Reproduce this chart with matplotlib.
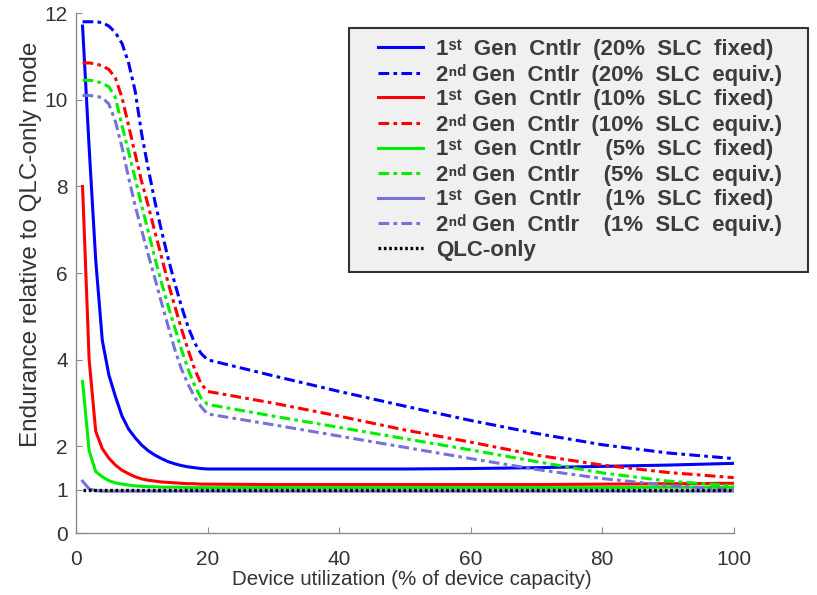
import matplotlib
matplotlib.use("Agg")
import matplotlib.pyplot as plt
from matplotlib import font_manager
from matplotlib.legend_handler import HandlerLine2D
from matplotlib.lines import Line2D

plt.rcParams["font.family"] = ["Liberation Sans", "DejaVu Sans"]

# utilization (% of device capacity)
util = [1, 2, 3, 4, 5, 6, 7, 8, 9, 10, 11, 12, 13, 14, 15, 16, 17, 18, 19, 20,
        30, 40, 50, 60, 70, 80, 90, 100]

gen1_20 = [11.7, 8.9, 6.3, 4.45, 3.65, 3.15, 2.7, 2.4, 2.2, 2.03, 1.9, 1.8, 1.72, 1.65,
           1.6, 1.56, 1.53, 1.51, 1.49, 1.48, 1.48, 1.48, 1.48, 1.49, 1.51, 1.54, 1.57, 1.61]
gen2_20 = [11.8, 11.8, 11.8, 11.78, 11.7, 11.55, 11.3, 10.85, 10.2, 9.2, 8.4, 7.65, 6.98, 6.35,
           5.78, 5.25, 4.78, 4.4, 4.15, 4.0, 3.63, 3.27, 2.93, 2.6, 2.3, 2.04, 1.85, 1.72]
gen1_10 = [8.0, 4.0, 2.35, 1.95, 1.73, 1.57, 1.45, 1.37, 1.3, 1.25, 1.22, 1.2, 1.18, 1.17,
           1.16, 1.15, 1.14, 1.14, 1.13, 1.13, 1.12, 1.12, 1.12, 1.12, 1.12, 1.13, 1.14, 1.15]
gen2_10 = [10.85, 10.85, 10.83, 10.78, 10.7, 10.5, 10.05, 9.4, 8.75, 8.1, 7.55, 6.95, 6.38, 5.78,
           5.25, 4.73, 4.25, 3.8, 3.45, 3.27, 3.0, 2.7, 2.38, 2.1, 1.8, 1.57, 1.4, 1.28]
gen1_5 = [3.5, 1.9, 1.42, 1.3, 1.21, 1.16, 1.13, 1.11, 1.09, 1.08, 1.07, 1.07, 1.06, 1.06,
          1.06, 1.06, 1.05, 1.05, 1.05, 1.05, 1.05, 1.05, 1.05, 1.05, 1.05, 1.05, 1.06, 1.06]
gen2_5 = [10.45, 10.45, 10.43, 10.38, 10.3, 10.05, 9.4, 8.8, 8.18, 7.55, 6.95, 6.35, 5.78, 5.25,
          4.75, 4.25, 3.8, 3.42, 3.12, 2.97, 2.7, 2.44, 2.18, 1.92, 1.65, 1.39, 1.2, 1.09]
gen1_1 = [1.2, 1.02, 0.98, 0.97, 0.97, 0.97, 0.97, 0.97, 0.97, 0.97, 0.97, 0.97, 0.97, 0.97,
          0.97, 0.97, 0.97, 0.97, 0.97, 0.97, 0.97, 0.97, 0.97, 0.97, 0.97, 0.97, 0.97, 0.97]
gen2_1 = [10.1, 10.1, 10.08, 10.05, 9.9, 9.5, 8.9, 8.2, 7.55, 6.98, 6.42, 5.88, 5.32, 4.78,
          4.25, 3.8, 3.45, 3.15, 2.92, 2.75, 2.5, 2.24, 1.98, 1.72, 1.47, 1.26, 1.1, 1.0]
qlc_only = [1.0] * len(util)

labels = [
    "1\u02e2\u1d57  Gen  Cntlr  (20%  SLC  fixed)",
    "2\u207f\u1d48 Gen  Cntlr  (20%  SLC  equiv.)",
    "1\u02e2\u1d57  Gen  Cntlr  (10%  SLC  fixed)",
    "2\u207f\u1d48 Gen  Cntlr  (10%  SLC  equiv.)",
    "1\u02e2\u1d57  Gen  Cntlr    (5%  SLC  fixed)",
    "2\u207f\u1d48 Gen  Cntlr    (5%  SLC  equiv.)",
    "1\u02e2\u1d57  Gen  Cntlr    (1%  SLC  fixed)",
    "2\u207f\u1d48 Gen  Cntlr    (1%  SLC  equiv.)",
    "QLC-only",
]

blue, red, green, purple = "#0000ff", "#ff0000", "#00ee00", "#7373d9"
dashdot = (0, (3.5, 1.4, 1.2, 1.4))

installed = {f.name for f in font_manager.fontManager.ttflist}
if "Liberation Sans Narrow" in installed:
    tick_font, tick_size, xlab_size = "Liberation Sans Narrow", 16.5, 17
else:
    tick_font, tick_size, xlab_size = "Liberation Sans", 15, 14.8

fig = plt.figure(figsize=(8.17, 5.95), dpi=100)
ax = fig.add_axes([0.093, 0.104, 0.805, 0.874])

series = [
    (gen1_20, blue, "-"), (gen2_20, blue, dashdot),
    (gen1_10, red, "-"), (gen2_10, red, dashdot),
    (gen1_5, green, "-"), (gen2_5, green, dashdot),
    (gen1_1, purple, "-"), (gen2_1, purple, dashdot),
]
for (vals, color, ls), lab in zip(series, labels):
    ax.plot(util, vals, color=color, linestyle=ls, linewidth=2.2, label=lab)
ax.plot(util, qlc_only, color="black", linestyle=(0, (0.8, 0.8)), linewidth=2.4, label=labels[-1])

ax.set_xlim(0, 100)
ax.set_ylim(0, 12)
ax.set_xticks([0, 20, 40, 60, 80, 100])
ax.set_yticks([0, 1, 2, 4, 6, 8, 10, 12])
for side in ("top", "right"):
    ax.spines[side].set_visible(False)
for side in ("left", "bottom"):
    ax.spines[side].set_color("#8c8c8c")
    ax.spines[side].set_linewidth(1.0)
ax.tick_params(direction="in", length=4, color="#8c8c8c", labelsize=tick_size,
               labelcolor="#333333", labelfontfamily=tick_font)
ax.tick_params(axis="x", pad=12)
ax.tick_params(axis="y", pad=6)

ax.set_xlabel("Device utilization (% of device capacity)", fontsize=xlab_size, color="#333333",
              family=tick_font)
ax.xaxis.set_label_coords(0.51, -0.07)
ax.set_ylabel("Endurance relative to QLC-only mode", fontsize=17.5, color="#333333")
ax.yaxis.set_label_coords(-0.052, 0.555)

leg = ax.legend(loc="upper left", bbox_to_anchor=(0.427, 0.541, 0.562, 0.412),
                bbox_transform=fig.transFigure, mode="expand", borderaxespad=0,
                prop={"weight": "bold", "size": 16}, labelcolor="#3c3c3c",
                handler_map={Line2D: HandlerLine2D(xpad=0.81)},
                handlelength=2.84, handletextpad=0.6, labelspacing=0.16,
                borderpad=0.5, fancybox=False, framealpha=1)
leg.get_frame().set_facecolor("#f0f0f0")
leg.get_frame().set_edgecolor("#333333")
leg.get_frame().set_linewidth(1.5)

fig.savefig("out.png", dpi=100)
